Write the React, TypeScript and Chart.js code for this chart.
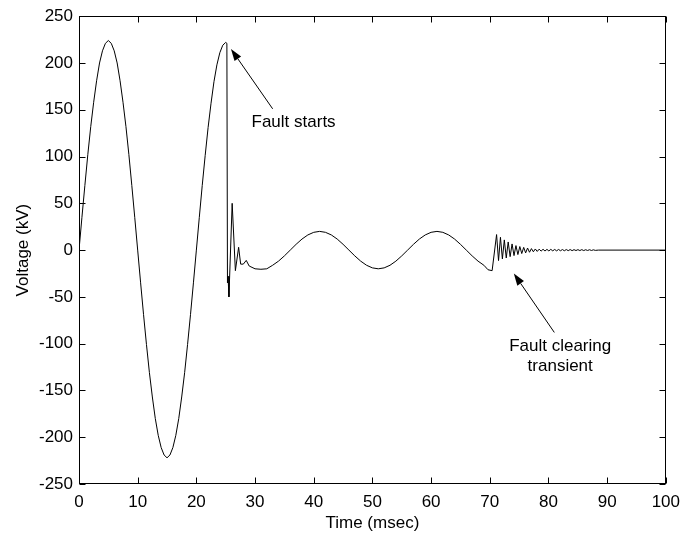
import React, { useEffect, useRef } from "react";
import { Chart, registerables } from "chart.js";

Chart.register(...registerables);

// ---- Data ----
// Pre-fault 50 Hz waveform (ms, kV)
const prefaultTimeMs = [
  0, 0.5, 1, 1.5, 2, 2.5, 3, 3.5, 4, 4.5, 5,
  5.5, 6, 6.5, 7, 7.5, 8, 8.5, 9, 9.5, 10,
  10.5, 11, 11.5, 12, 12.5, 13, 13.5, 14, 14.5, 15,
  15.5, 16, 16.5, 17, 17.5, 18, 18.5, 19, 19.5, 20,
  20.5, 21, 21.5, 22, 22.5, 23, 23.5, 24, 24.5, 25,
];
const prefaultKv = [
  0, 35, 69, 102, 132, 158, 181, 200, 213, 221, 224,
  221, 213, 200, 181, 158, 132, 102, 69, 35, 0,
  -35, -69, -101, -131, -157, -180, -198, -211, -219, -222,
  -219, -211, -198, -180, -157, -131, -101, -69, -35, 0,
  35, 69, 101, 131, 157, 180, 198, 211, 219, 222,
];

// Fault period (ms, kV)
const faultTimeMs = [
  25.2, 25.3, 25.4, 25.55, 26.1, 26.65, 27.2, 27.55, 28.0, 28.5, 29.0, 30.0, 31.0, 32.0,
  33, 34, 35, 36, 37, 38, 39, 40, 41, 42, 43, 44, 45, 46, 47, 48, 49, 50,
  51, 52, 53, 54, 55, 56, 57, 58, 59, 60, 61, 62, 63, 64, 65, 66, 67, 68, 69,
  69.7, 70.4,
];
const faultKv = [
  221, -35, -28, -50, 50, -22, 3, -15, -15, -11, -17, -20, -20.5, -20,
  -16.2, -11.8, -6.2, 0, 6.2, 11.8, 16.2, 19, 20, 19, 16.2, 11.8, 6.2, 0, -6.2, -11.8, -16.2, -19,
  -20, -19, -16.2, -11.8, -6.2, 0, 6.2, 11.8, 16.2, 19, 20, 19, 16.2, 11.8, 6.2, 0, -6.2, -11.8, -16.2,
  -21, -22,
];

// Fault clearing transient (ms, kV)
const clearingTimeMs = [
  71.16, 71.49, 71.82, 72.15, 72.48, 72.81, 73.14, 73.47, 73.8, 74.13,
  74.46, 74.79, 75.12, 75.45, 75.78, 76.11, 76.44, 76.77, 77.1, 77.43,
  77.76, 78.09, 78.42, 78.75, 79.08, 79.41, 79.74, 80.07, 80.4, 80.73,
  81.06, 81.39, 81.72, 82.05, 82.38, 82.71, 83.04, 83.37, 83.7, 84.03,
  84.36, 84.69, 85.02, 85.35, 85.68, 86.01, 86.34, 86.67, 87.0, 87.33,
  87.66, 87.99, 88.5, 100,
];
const clearingKv = [
  16.6, -11.2, 13.7, -9.4, 10.9, -8.4, 8.7, -7.0, 6.6, -5.9,
  4.8, -4.8, 3.8, -3.7, 2.9, -3.0, 2.2, -2.3, 1.6, -1.8,
  1.2, -1.4, 1.0, -1.1, 0.9, -1.0, 0.8, -0.9, 0.8, -0.8,
  0.7, -0.8, 0.7, -0.7, 0.6, -0.7, 0.6, -0.6, 0.6, -0.6,
  0.5, -0.5, 0.5, -0.5, 0.5, -0.5, 0.4, -0.4, 0.4, -0.4,
  0.3, -0.3, 0, 0,
];

const xTicks = [0, 10, 20, 30, 40, 50, 60, 70, 80, 90, 100];
const yTicks = [-250, -200, -150, -100, -50, 0, 50, 100, 150, 200, 250];
const xTitle = "Time (msec)";
const yTitle = "Voltage (kV)";

const faultStartsText = ["Fault starts"];
const faultClearingText = ["Fault clearing", "transient"];

// ---- Styling / layout ----
const FONT_FAMILY = "'Liberation Sans', Arial, Helvetica, sans-serif";
const FONT_SIZE = 17;

const annotations = [
  { lines: faultStartsText, text: [29.4, 137], align: "left" as CanvasTextAlign, tail: [33.0, 151], head: [25.9, 215] },
  { lines: faultClearingText, text: [82.0, -103], align: "center" as CanvasTextAlign, tail: [81.0, -88], head: [74.1, -25] },
];

function buildPoints() {
  const pts: { x: number; y: number }[] = [];
  const add = (t: number[], v: number[]) => t.forEach((tt, i) => pts.push({ x: tt, y: v[i] }));
  add(prefaultTimeMs, prefaultKv);
  add(faultTimeMs, faultKv);
  add(clearingTimeMs, clearingKv);
  return pts;
}

const framePlugin = {
  id: "matlabFrame",
  afterDatasetsDraw(chart: any) {
    const { ctx, chartArea, scales } = chart;
    const xs = scales.x;
    const ys = scales.y;
    const L = Math.round(chartArea.left) + 0.5;
    const R = Math.round(chartArea.right) - 0.5;
    const T = Math.round(chartArea.top) + 0.5;
    const B = Math.round(chartArea.bottom) - 0.5;
    ctx.save();
    ctx.strokeStyle = "#000";
    ctx.lineWidth = 1;
    ctx.strokeRect(L, T, R - L, B - T);
    ctx.beginPath();
    const tl = 6;
    for (const v of xTicks) {
      const px = Math.round(xs.getPixelForValue(v)) + 0.5;
      ctx.moveTo(px, B);
      ctx.lineTo(px, B - tl);
      ctx.moveTo(px, T);
      ctx.lineTo(px, T + tl);
    }
    for (const v of yTicks) {
      const py = Math.round(ys.getPixelForValue(v)) + 0.5;
      ctx.moveTo(L, py);
      ctx.lineTo(L + tl, py);
      ctx.moveTo(R, py);
      ctx.lineTo(R - tl, py);
    }
    ctx.stroke();

    // annotations
    ctx.fillStyle = "#000";
    ctx.font = `${FONT_SIZE}px ${FONT_FAMILY}`;
    ctx.textBaseline = "middle";
    for (const a of annotations) {
      const hx = xs.getPixelForValue(a.head[0]);
      const hy = ys.getPixelForValue(a.head[1]);
      const tx = xs.getPixelForValue(a.tail[0]);
      const ty = ys.getPixelForValue(a.tail[1]);
      const dx = hx - tx;
      const dy = hy - ty;
      const len = Math.hypot(dx, dy);
      const ux = dx / len;
      const uy = dy / len;
      const headLen = 12;
      const headW = 4;
      const bx = hx - ux * headLen;
      const by = hy - uy * headLen;
      ctx.beginPath();
      ctx.moveTo(tx, ty);
      ctx.lineTo(bx, by);
      ctx.stroke();
      ctx.beginPath();
      ctx.moveTo(hx, hy);
      ctx.lineTo(bx - uy * headW, by + ux * headW);
      ctx.lineTo(bx + uy * headW, by - ux * headW);
      ctx.closePath();
      ctx.fill();

      ctx.textAlign = a.align;
      const px = xs.getPixelForValue(a.text[0]);
      const py = ys.getPixelForValue(a.text[1]);
      a.lines.forEach((line, i) => ctx.fillText(line, px, py + i * 20));
    }
    ctx.restore();
  },
};

export default function App() {
  const ref = useRef<HTMLCanvasElement>(null);
  useEffect(() => {
    const font = { family: FONT_FAMILY, size: FONT_SIZE };
    const chart = new Chart(ref.current as HTMLCanvasElement, {
      type: "line",
      data: {
        datasets: [
          {
            data: buildPoints(),
            borderColor: "#000",
            borderWidth: 1,
            pointRadius: 0,
            tension: 0,
            fill: false,
          },
        ],
      },
      options: {
        responsive: false,
        animation: false,
        devicePixelRatio: 1,
        layout: { padding: { left: 0, top: 15, right: 15, bottom: 0 } },
        plugins: { legend: { display: false }, tooltip: { enabled: false } },
        scales: {
          x: {
            type: "linear",
            min: 0,
            max: 100,
            afterBuildTicks: (s: any) => {
              s.ticks = xTicks.map((v) => ({ value: v }));
            },
            ticks: { color: "#000", font, padding: 8, maxRotation: 0, autoSkip: false },
            grid: { drawOnChartArea: false, drawTicks: false },
            border: { display: false },
            title: { display: true, text: xTitle, color: "#000", font, padding: { top: 0, bottom: 3 } },
            afterFit: (s: any) => {
              s.height = 53;
            },
          },
          y: {
            type: "linear",
            min: -250,
            max: 250,
            afterBuildTicks: (s: any) => {
              s.ticks = yTicks.map((v) => ({ value: v }));
            },
            ticks: { color: "#000", font, padding: 6, autoSkip: false },
            grid: { drawOnChartArea: false, drawTicks: false },
            border: { display: false },
            title: { display: true, text: yTitle, color: "#000", font, padding: { top: 13, bottom: 0 } },
            afterFit: (s: any) => {
              s.width = 79;
            },
          },
        },
      },
      plugins: [framePlugin],
    } as any);
    return () => chart.destroy();
  }, []);
  return (
    <div style={{ position: "fixed", left: 0, top: 0, width: 688, height: 537, background: "#fff" }}>
      <canvas ref={ref} width={688} height={537} style={{ display: "block", width: 688, height: 537 }} />
    </div>
  );
}
